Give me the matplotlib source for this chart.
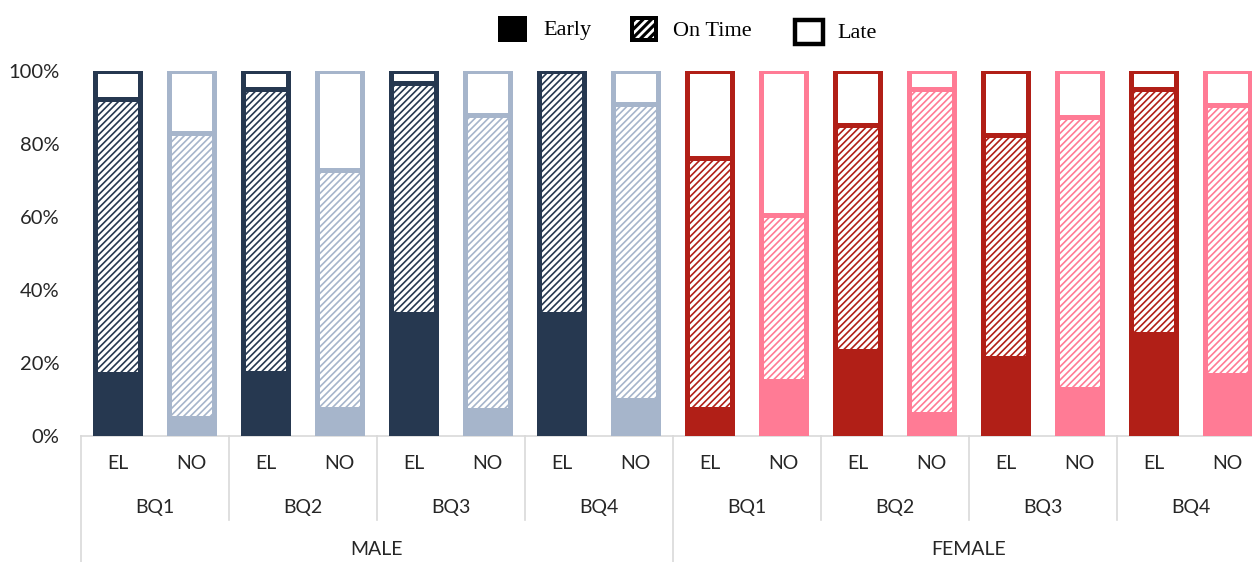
import matplotlib
matplotlib.use("Agg")
import matplotlib.pyplot as plt
from matplotlib.patches import Rectangle
import numpy as np

# data (percent)
genders = ["MALE", "FEMALE"]
quarters = ["BQ1", "BQ2", "BQ3", "BQ4"]
groups = ["EL", "NO"]
early = [17, 5, 17.3, 7.3, 33.5, 7.1, 33.5, 10, 7.5, 15, 23.3, 6, 21.5, 13, 28, 16.8]
on_time = [75.4, 78, 77.7, 65.7, 63.3, 80.9, 66.5, 81, 68.7, 45.6, 62, 89, 61.1, 74.5, 67, 73.9]
late = [7.6, 17, 5, 27, 3.2, 12, 0, 9, 23.8, 39.4, 14.7, 5, 17.4, 12.5, 5, 9.3]
yticks = [0, 20, 40, 60, 80, 100]

colors = {("MALE", "EL"): "#263850", ("MALE", "NO"): "#a6b5cb",
          ("FEMALE", "EL"): "#b11f17", ("FEMALE", "NO"): "#ff7b95"}

plt.rcParams["hatch.linewidth"] = 1.2
sans = "Lato"
txtc = "#262626"
grid = "#d9d9d9"

W, H = 1252, 562
fig = plt.figure(figsize=(W / 100, H / 100), dpi=100)
ax = fig.add_axes([80.5 / W, (H - 436) / H, 1184 / W, 365 / H])

x = np.arange(16)
cols = [colors[(g, e)] for g in genders for q in quarters for e in groups]
bw = 0.62
lw = 3.6
b0 = np.array(early)
b1 = b0 + np.array(on_time)
ax.bar(x, early, bw, color=cols, edgecolor=cols, linewidth=lw, zorder=2)
ax.bar(x, on_time, bw, bottom=b0, color="white", edgecolor=cols, linewidth=lw,
       hatch="/////", zorder=2)
ax.bar(x, late, bw, bottom=b1, color="white", edgecolor=cols, linewidth=lw, zorder=2)

ax.set_xlim(-0.5, 15.5)
ax.set_ylim(0, 100)
ax.set_yticks(yticks)
ax.set_yticklabels([f"{t}%" for t in yticks], fontfamily=sans, fontsize=14.5, color=txtc)
ax.tick_params(axis="y", length=0, pad=15)
ax.set_xticks([])
for s in ["left", "right", "top"]:
    ax.spines[s].set_visible(False)
ax.spines["bottom"].set_color(grid)
ax.spines["bottom"].set_linewidth(1.2)
ax.spines["bottom"].set_zorder(1)

# hierarchical category axis
tr = ax.get_xaxis_transform()
for i in range(16):
    ax.text(x[i], -0.074, groups[i % 2], transform=tr, ha="center", va="center",
            fontfamily=sans, fontsize=14, color=txtc)
for k in range(8):
    ax.text(2 * k + 0.5, -0.197, quarters[k % 4], transform=tr, ha="center", va="center",
            fontfamily=sans, fontsize=14, color=txtc)
for k in range(2):
    ax.text(8 * k + 3.5, -0.312, genders[k], transform=tr, ha="center", va="center",
            fontfamily=sans, fontsize=14, color=txtc)
for b in np.arange(-0.5, 16, 2):
    if b in (-0.5, 7.5):
        ytop = -0.36
    else:
        ytop = -0.23
    ax.plot([b, b], [0, ytop], transform=tr, color=grid, lw=1.2, clip_on=False)

# legend
def fig_rect(x0, y0, w, h, **kw):
    r = Rectangle((x0 / W, 1 - (y0 + h) / H), w / W, h / H, transform=fig.transFigure, **kw)
    fig.add_artist(r)

fig_rect(498, 16, 29, 26, facecolor="black", edgecolor="black", lw=0)
fig_rect(630, 16, 28, 26, facecolor="black", edgecolor="black", lw=0)
with plt.rc_context({"hatch.linewidth": 2.0}):
    fig_rect(634, 20, 20, 18, facecolor="black", edgecolor="white", lw=0, hatch="////")
fig_rect(795, 20, 28, 24, facecolor="white", edgecolor="black", lw=3.2)
serif = "Liberation Serif"
fig.text(543 / W, 1 - 30 / H, "Early", fontfamily=serif, fontsize=16, va="center", color="black")
fig.text(673 / W, 1 - 31 / H, "On Time", fontfamily=serif, fontsize=16, va="center", color="black")
fig.text(837 / W, 1 - 34 / H, "Late", fontfamily=serif, fontsize=16, va="center", color="black")

fig.savefig("out.png", dpi=100)
